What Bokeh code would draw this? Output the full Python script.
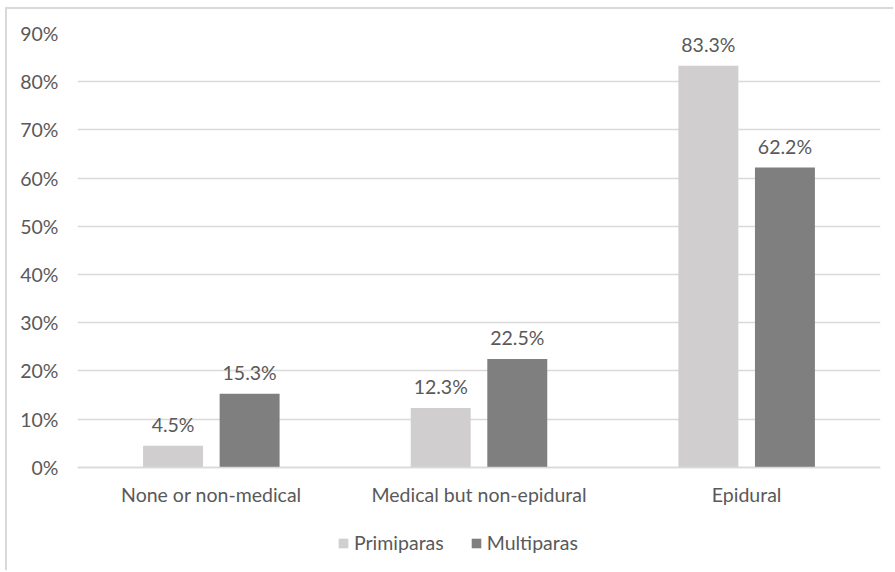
from bokeh.plotting import figure
from bokeh.models import ColumnDataSource, FixedTicker, PrintfTickFormatter, Legend, LegendItem
from bokeh.transform import dodge
from bokeh.core.properties import value
from bokeh.embed import file_html
from bokeh.resources import INLINE

categories = ["None or non-medical", "Medical but non-epidural", "Epidural"]
primiparas = [4.5, 12.3, 83.3]
multiparas = [15.3, 22.5, 62.2]
y_ticks = [0, 10, 20, 30, 40, 50, 60, 70, 80, 90]

FONT = "Lato"
TXT = "#595959"
FS = "19.5px"

src = ColumnDataSource(dict(
    cat=categories,
    prim=primiparas,
    multi=multiparas,
    prim_lbl=[f"{v:.1f}%" for v in primiparas],
    multi_lbl=[f"{v:.1f}%" for v in multiparas],
))

p = figure(x_range=categories, y_range=(-21.8, 90), width=888, height=563,
           output_backend="svg", toolbar_location=None,
           min_border_left=70, min_border_top=24, min_border_right=15, min_border_bottom=0)
p.styles = {"border-top": "2px solid #d9d9d9", "border-left": "2px solid #d9d9d9",
            "margin-left": "5px", "margin-top": "7px"}
p.outline_line_color = None

off = 0.143
bw = 0.224
r1 = p.vbar(x=dodge("cat", -off, range=p.x_range), top="prim", width=bw, source=src,
            fill_color="#d0cece", line_color=None)
r2 = p.vbar(x=dodge("cat", off, range=p.x_range), top="multi", width=bw, source=src,
            fill_color="#7f7f7f", line_color=None)

for xoff, col, lbl in [(-off, "prim", "prim_lbl"), (off, "multi", "multi_lbl")]:
    p.text(x=dodge("cat", xoff, range=p.x_range), y=col, text=lbl, source=src,
           text_align="center", text_baseline="bottom", y_offset=-10,
           text_font=value(FONT), text_font_size=FS, text_color=TXT)

p.yaxis.ticker = FixedTicker(ticks=y_ticks)
p.yaxis.formatter = PrintfTickFormatter(format="%d%%")
p.yaxis.axis_line_color = None
p.yaxis.major_tick_line_color = None
p.yaxis.minor_tick_line_color = None
p.yaxis.major_label_standoff = 13
p.yaxis.major_label_text_font = FONT
p.yaxis.major_label_text_font_size = FS
p.yaxis.major_label_text_color = TXT

p.xaxis.fixed_location = 0
p.xaxis.axis_line_color = "#d9d9d9"
p.xaxis.axis_line_width = 1.5
p.xaxis.major_tick_line_color = None
p.xaxis.minor_tick_line_color = None
p.xaxis.major_label_standoff = 10
p.xaxis.major_label_text_font = FONT
p.xaxis.major_label_text_font_size = FS
p.xaxis.major_label_text_color = TXT

p.xgrid.grid_line_color = None
p.ygrid.grid_line_color = "#d9d9d9"
p.ygrid.grid_line_width = 1.5

legend = Legend(items=[LegendItem(label="Primiparas", renderers=[r1]),
                       LegendItem(label="Multiparas", renderers=[r2])],
                orientation="horizontal", location=(260, 18),
                label_text_font=FONT, label_text_font_size=FS, label_text_color=TXT,
                glyph_width=12, glyph_height=12, label_standoff=5, spacing=26,
                border_line_color=None, background_fill_alpha=0, margin=0, padding=4)
p.add_layout(legend)

open("out.html", "w").write(file_html(p, INLINE))
